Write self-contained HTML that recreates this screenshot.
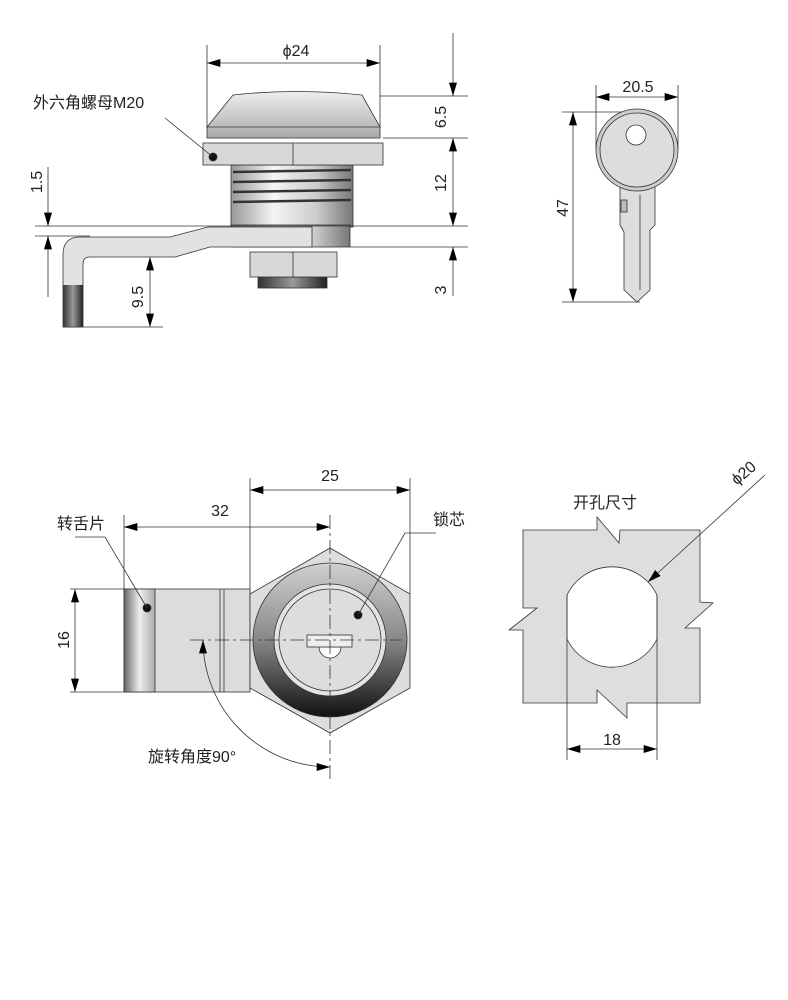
<!DOCTYPE html>
<html><head><meta charset="utf-8"><style>html,body{margin:0;padding:0;background:#fff}svg{display:block}text{font-family:"Liberation Sans","Noto Sans CJK SC",sans-serif;fill:#222}</style></head>
<body>
<svg width="788" height="1000" viewBox="0 0 788 1000" xmlns="http://www.w3.org/2000/svg">
<defs>
<linearGradient id="cyl" x1="0" x2="1" y1="0" y2="0"><stop offset="0" stop-color="#999"/><stop offset="0.35" stop-color="#f4f4f4"/><stop offset="0.7" stop-color="#ccc"/><stop offset="1" stop-color="#777"/></linearGradient>
<linearGradient id="cap" x1="0" x2="0" y1="0" y2="1"><stop offset="0" stop-color="#eee"/><stop offset="1" stop-color="#aaa"/></linearGradient>
<linearGradient id="dk" x1="0" x2="1"><stop offset="0" stop-color="#333"/><stop offset="0.5" stop-color="#999"/><stop offset="1" stop-color="#222"/></linearGradient>
<linearGradient id="tg" x1="0" x2="1"><stop offset="0" stop-color="#666"/><stop offset="0.5" stop-color="#eee"/><stop offset="1" stop-color="#aaa"/></linearGradient>
<linearGradient id="ring" x1="0" x2="0" y1="0" y2="1"><stop offset="0" stop-color="#d0d0d0"/><stop offset="0.5" stop-color="#888"/><stop offset="1" stop-color="#111"/></linearGradient>
<marker id="a" viewBox="0 0 10 6" refX="10" refY="3" markerWidth="22" markerHeight="8" markerUnits="userSpaceOnUse" orient="auto-start-reverse"><path d="M0,0L10,3L0,6z" fill="#000"/></marker>
</defs>
<g stroke="#333" stroke-width="0.8" fill="none">
<line x1="207" y1="45" x2="207" y2="128"/><line x1="380" y1="45" x2="380" y2="128"/>
<line x1="207" y1="63" x2="380" y2="63" marker-start="url(#a)" marker-end="url(#a)"/>
<path d="M233,95 Q296,88 362,95 L380,127 L380,138 L207,138 L207,127 Z" fill="url(#cap)"/>
<line x1="207" y1="127" x2="380" y2="127"/>
<rect x="231" y="165" width="122" height="62" fill="url(#cyl)"/>
<g stroke="#333" stroke-width="2.5"><line x1="233" y1="172" x2="351" y2="170"/><line x1="233" y1="182" x2="351" y2="180"/><line x1="233" y1="192" x2="351" y2="190"/><line x1="233" y1="202" x2="351" y2="200"/></g>
<rect x="231" y="225" width="119" height="22" fill="url(#cyl)"/>
<rect x="203" y="143" width="180" height="22" fill="#d8d8d8"/><line x1="293" y1="143" x2="293" y2="165"/>
<circle cx="213" cy="157" r="4" fill="#111"/>
<path d="M208,227 L312,227 L312,247 L210,247 L175,257 L90,257 Q83,257 83,264 L83,327 L63,327 L63,255 Q63,237 80,237 L170,237 Z" fill="#e2e2e2"/>
<rect x="63" y="285" width="20" height="42" fill="url(#dk)" stroke="none"/>
<rect x="258" y="277" width="69" height="11" fill="url(#dk)"/>
<rect x="250" y="252" width="87" height="25" fill="#d8d8d8"/><line x1="293" y1="252" x2="293" y2="277"/>
<line x1="453" y1="33" x2="453" y2="96" marker-end="url(#a)"/>
<line x1="453" y1="138" x2="453" y2="226" marker-start="url(#a)" marker-end="url(#a)"/>
<line x1="453" y1="296" x2="453" y2="247" marker-end="url(#a)"/>
<line x1="380" y1="96" x2="468" y2="96"/><line x1="383" y1="138" x2="468" y2="138"/>
<line x1="35" y1="226" x2="468" y2="226"/><line x1="350" y1="247" x2="468" y2="247"/>
<line x1="35" y1="236" x2="90" y2="236"/>
<line x1="48" y1="167" x2="48" y2="226" marker-end="url(#a)"/>
<line x1="48" y1="297" x2="48" y2="236" marker-end="url(#a)"/>
<line x1="150" y1="257" x2="150" y2="327" marker-start="url(#a)" marker-end="url(#a)"/>
<line x1="63" y1="327" x2="163" y2="327"/>
<line x1="165" y1="118" x2="213" y2="157"/>
<line x1="596" y1="85" x2="596" y2="150"/><line x1="678" y1="85" x2="678" y2="150"/>
<line x1="596" y1="97" x2="678" y2="97" marker-start="url(#a)" marker-end="url(#a)"/>
<line x1="562" y1="112" x2="640" y2="112"/><line x1="562" y1="302" x2="640" y2="302"/>
<line x1="573" y1="112" x2="573" y2="302" marker-start="url(#a)" marker-end="url(#a)"/>
<path d="M620,185 L620,225 L624,232 L624,290 L637,302 L650,290 L650,230 L655,225 L655,185 Z" fill="#ddd"/>
<line x1="640" y1="195" x2="640" y2="290"/><rect x="621" y="200" width="6" height="12" fill="#bbb"/>
<circle cx="637" cy="150" r="41" fill="#ccc"/><circle cx="637" cy="150" r="37" fill="#ddd"/>
<circle cx="636" cy="135" r="10" fill="#fff"/>
<line x1="250" y1="478" x2="250" y2="594"/><line x1="410" y1="478" x2="410" y2="594"/>
<line x1="250" y1="490" x2="410" y2="490" marker-start="url(#a)" marker-end="url(#a)"/>
<line x1="124" y1="515" x2="124" y2="589"/>
<line x1="124" y1="527" x2="330" y2="527" marker-start="url(#a)" marker-end="url(#a)"/>
<rect x="124" y="589" width="126" height="103" fill="#dcdcdc"/>
<rect x="124" y="589" width="31" height="103" fill="url(#tg)"/>
<line x1="220" y1="589" x2="220" y2="692"/><line x1="224" y1="589" x2="224" y2="692"/>
<circle cx="147" cy="608" r="4" fill="#111"/>
<path d="M330,548 L410,594 L410,688 L330,733 L250,688 L250,594 Z" fill="#ddd"/>
<circle cx="330" cy="640" r="77" fill="url(#ring)"/>
<circle cx="330" cy="640" r="56" fill="#e4e4e4"/><circle cx="330" cy="640" r="51" fill="#ddd"/>
<path d="M319,647 A11,11 0 0 0 341,647 Z" fill="#fff"/>
<rect x="307" y="635" width="45" height="12" fill="#eee"/>
<circle cx="358" cy="615" r="4" fill="#111"/>
<g stroke-dasharray="14,4,3,4"><line x1="190" y1="640" x2="402" y2="640"/><line x1="330" y1="515" x2="330" y2="780"/></g>
<line x1="70" y1="589" x2="124" y2="589"/><line x1="70" y1="692" x2="124" y2="692"/>
<line x1="75" y1="589" x2="75" y2="692" marker-start="url(#a)" marker-end="url(#a)"/>
<path d="M330,767 A127,127 0 0 1 203,640" marker-start="url(#a)" marker-end="url(#a)"/>
<polyline points="75,537 105,537 147,608"/>
<polyline points="436,533 405,533 358,615"/>
<path d="M523,530 L597,530 L597,517 L619,543 L620,530 L700,530 L700,602 L713,603 L685,628 L700,628 L700,703 L627,703 L627,718 L597,690 L597,703 L523,703 L523,630 L509,630 L537,608 L523,608 Z" fill="#dedede"/>
<path d="M567,595 A50,50 0 0 1 657,595 L657,639 A50,50 0 0 1 567,639 Z" fill="#fff"/>
<line x1="567" y1="595" x2="567" y2="760"/><line x1="657" y1="595" x2="657" y2="760"/>
<line x1="567" y1="749" x2="657" y2="749" marker-start="url(#a)" marker-end="url(#a)"/>
<line x1="765" y1="475" x2="648" y2="582" marker-end="url(#a)"/>
</g>
<g font-size="16">
<text x="296" y="56" text-anchor="middle">ϕ24</text>
<text x="33" y="108">外六角螺母M20</text>
<text transform="translate(446,117) rotate(-90)" text-anchor="middle">6.5</text>
<text transform="translate(446,183) rotate(-90)" text-anchor="middle">12</text>
<text transform="translate(446,290) rotate(-90)" text-anchor="middle">3</text>
<text transform="translate(42,182) rotate(-90)" text-anchor="middle">1.5</text>
<text transform="translate(143,297) rotate(-90)" text-anchor="middle">9.5</text>
<text x="638" y="92" text-anchor="middle">20.5</text>
<text transform="translate(568,208) rotate(-90)" text-anchor="middle">47</text>
<text x="330" y="481" text-anchor="middle">25</text>
<text x="220" y="516" text-anchor="middle">32</text>
<text x="57" y="529">转舌片</text>
<text x="433" y="525">锁芯</text>
<text transform="translate(69,640) rotate(-90)" text-anchor="middle">16</text>
<text x="148" y="762">旋转角度90°</text>
<text x="573" y="508">开孔尺寸</text>
<text transform="translate(747,477) rotate(-40)" text-anchor="middle">ϕ20</text>
<text x="612" y="745" text-anchor="middle">18</text>
</g>
</svg>
</body></html>
